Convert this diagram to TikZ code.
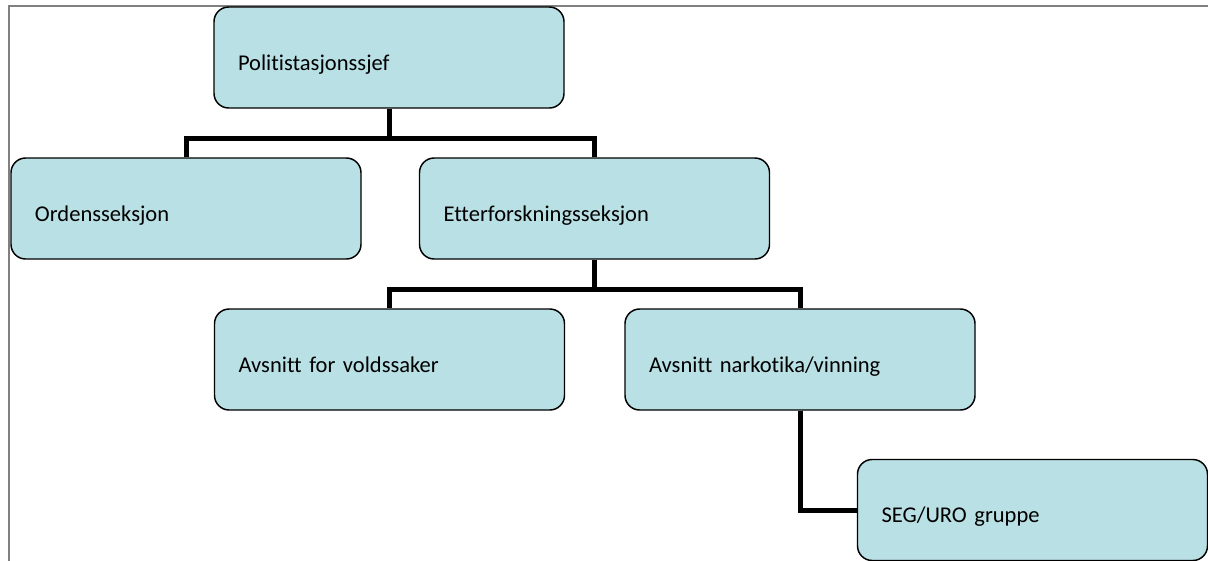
\documentclass[tikz,border=0pt]{standalone}
\usepackage{fontspec}
\setmainfont{Carlito}[Ligatures={NoCommon}]
\usetikzlibrary{positioning}
\definecolor{paleteal}{RGB}{185,224,228}
\definecolor{framegray}{RGB}{128,128,128}
\tikzset{
  unit/.style={draw=black,fill=paleteal,line width=1.1pt,rounded corners=11pt,
    minimum width=262.5pt,minimum height=75.75pt,inner xsep=18pt,
    text width=226.5pt,align=left,text height=18.8pt,text depth=0pt,
    font=\fontsize{16.9}{18}\selectfont},
  link/.style={line width=3.75pt,draw=black,line join=miter},
  frame/.style={draw=framegray,line width=1.5pt},
}
\begin{document}
\begin{tikzpicture}[x=0.75pt,y=-0.75pt]
  \useasboundingbox (0,0) rectangle (1208,561);
  \draw[frame] (9,561) -- (9,6) -- (1208,6);
  % connectors first, boxes on top
  \coordinate (bossfoot) at (389,138);
  \coordinate (etterfoot) at (594.5,289);
  \node[unit] (boss) at (389,57.5) {Politistasjonssjef};
  \node[unit] (ordens) at (186,208.5) {Ordensseksjon};
  \node[unit] (etter) at (594.5,208.5) {Etterforskningsseksjon};
  \node[unit] (vold) at (389.5,359.5) {Avsnitt for voldssaker};
  \node[unit] (nark) at (800,359.5) {Avsnitt narkotika/vinning};
  \node[unit] (seg) at (1032.5,510) {SEG/URO gruppe};
  \draw[link] (boss.south) -- (bossfoot) -| (ordens.north);
  \draw[link] (bossfoot) -| (etter.north);
  \draw[link] (etter.south) -- (etterfoot) -| (vold.north);
  \draw[link] (etterfoot) -| (nark.north);
  \draw[link] (nark.south) |- (seg.west);
\end{tikzpicture}
\end{document}
